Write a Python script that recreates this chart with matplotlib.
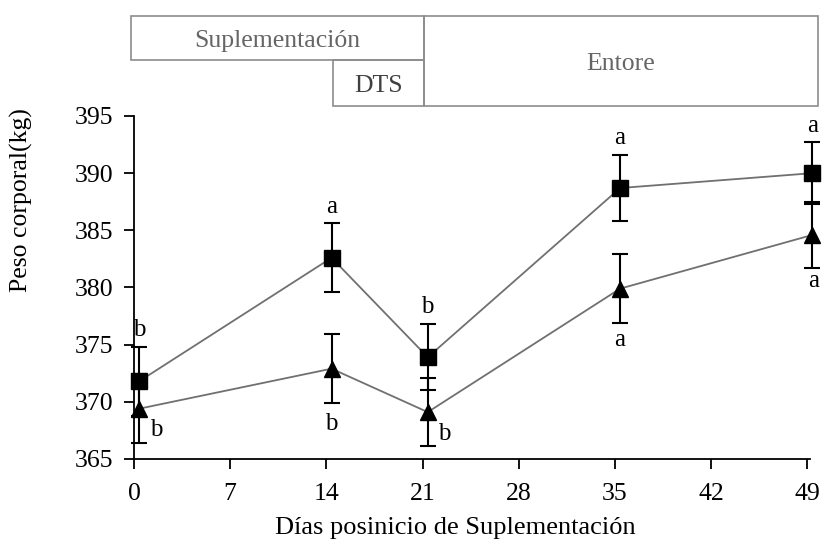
import matplotlib as mpl
mpl.use('Agg')
import matplotlib.pyplot as plt
from matplotlib.patches import Rectangle

plt.rcParams['font.family'] = ['Liberation Serif', 'DejaVu Serif']

# Data
days = [0, 14, 21, 35, 49]
peso_sq = [371.8, 382.6, 373.9, 388.7, 390.0]
err_sq = [3.0, 3.0, 2.9, 2.9, 2.7]
peso_tri = [369.4, 372.9, 369.1, 379.9, 384.6]
err_tri = [3.0, 3.0, 3.0, 3.0, 2.9]
letras_sq = ['b', 'a', 'b', 'a', 'a']
letras_tri = ['b', 'b', 'b', 'a', 'a']
xticks = [0, 7, 14, 21, 28, 35, 42, 49]
yticks = [365, 370, 375, 380, 385, 390, 395]

W, H = 826, 547
fig = plt.figure(figsize=(W / 100, H / 100), dpi=100)
ax = fig.add_axes([134 / W, 1 - 459 / H, (810 - 134) / W, (459 - 116) / H])

# markers sit a little right of the tick positions in the original
xoff = 0.38
xs = [d + xoff for d in days]

ax.plot(xs, peso_sq, color='#707070', lw=1.3, zorder=2, clip_on=False)
ax.plot(xs, peso_tri, color='#707070', lw=1.3, zorder=2, clip_on=False)
for ys, es in [(peso_sq, err_sq), (peso_tri, err_tri)]:
    eb = ax.errorbar(xs, ys, yerr=es, fmt='none', ecolor='black', elinewidth=1.5,
                     capsize=5.5, capthick=1.5, zorder=3)
    for art in eb.lines[1] + eb.lines[2]:
        art.set_clip_on(False)
ax.plot(xs, peso_sq, 's', color='black', ms=12, zorder=4, clip_on=False)
ax.plot(xs, peso_tri, '^', color='black', ms=11, zorder=4, clip_on=False)

# significance letters
for x, y, e, t in zip(xs, peso_sq, err_sq, letras_sq):
    ax.annotate(t, (x, y + e), xytext=(0, 12), textcoords='offset points',
                ha='center', va='center', fontsize=18, annotation_clip=False)

tri_off = [(12, 9), (0, -15), (12, 9), (0, -12), (1, -9)]
for (x, y, e, t), (dx, dy) in zip(zip(xs, peso_tri, err_tri, letras_tri), tri_off):
    ax.annotate(t, (x, y - e), xytext=(dx, dy), textcoords='offset points',
                ha='center', va='center', fontsize=18, annotation_clip=False)

ax.set_xlim(0, 49.2)
ax.set_ylim(365, 395)
ax.set_xticks(xticks)
ax.set_yticks(yticks)
ax.spines['top'].set_visible(False)
ax.spines['right'].set_visible(False)
ax.spines['left'].set_linewidth(1.3)
ax.spines['bottom'].set_linewidth(1.3)
ax.tick_params(direction='out', length=7, width=1.3, labelsize=18.5)
ax.tick_params(axis='y', pad=8)
ax.tick_params(axis='x', pad=10)
ax.set_xlabel('Días posinicio de Suplementación', fontsize=19, va='center')
ax.xaxis.set_label_coords(0.476, -0.202)
ax.set_ylabel('Peso corporal(kg)', fontsize=18.5, va='center')
ax.yaxis.set_label_coords(-0.166, 0.755)

# period boxes above the plot
def box(x0, y0, x1, y1, text, color='#666666'):
    fig.patches.append(Rectangle((x0 / W, 1 - y1 / H), (x1 - x0) / W, (y1 - y0) / H,
                                 transform=fig.transFigure, fill=False,
                                 edgecolor='#8c8c8c', lw=1.2))
    fig.text((x0 + x1) / 2 / W, 1 - ((y0 + y1) / 2 + 3) / H, text, ha='center',
             va='center', fontsize=18.5, color=color)

box(131, 16, 424, 60, 'Suplementación')
box(333, 60, 424, 106, 'DTS', color='#404040')
box(424, 16, 818, 106, 'Entore')

fig.savefig('out.png', dpi=100)
